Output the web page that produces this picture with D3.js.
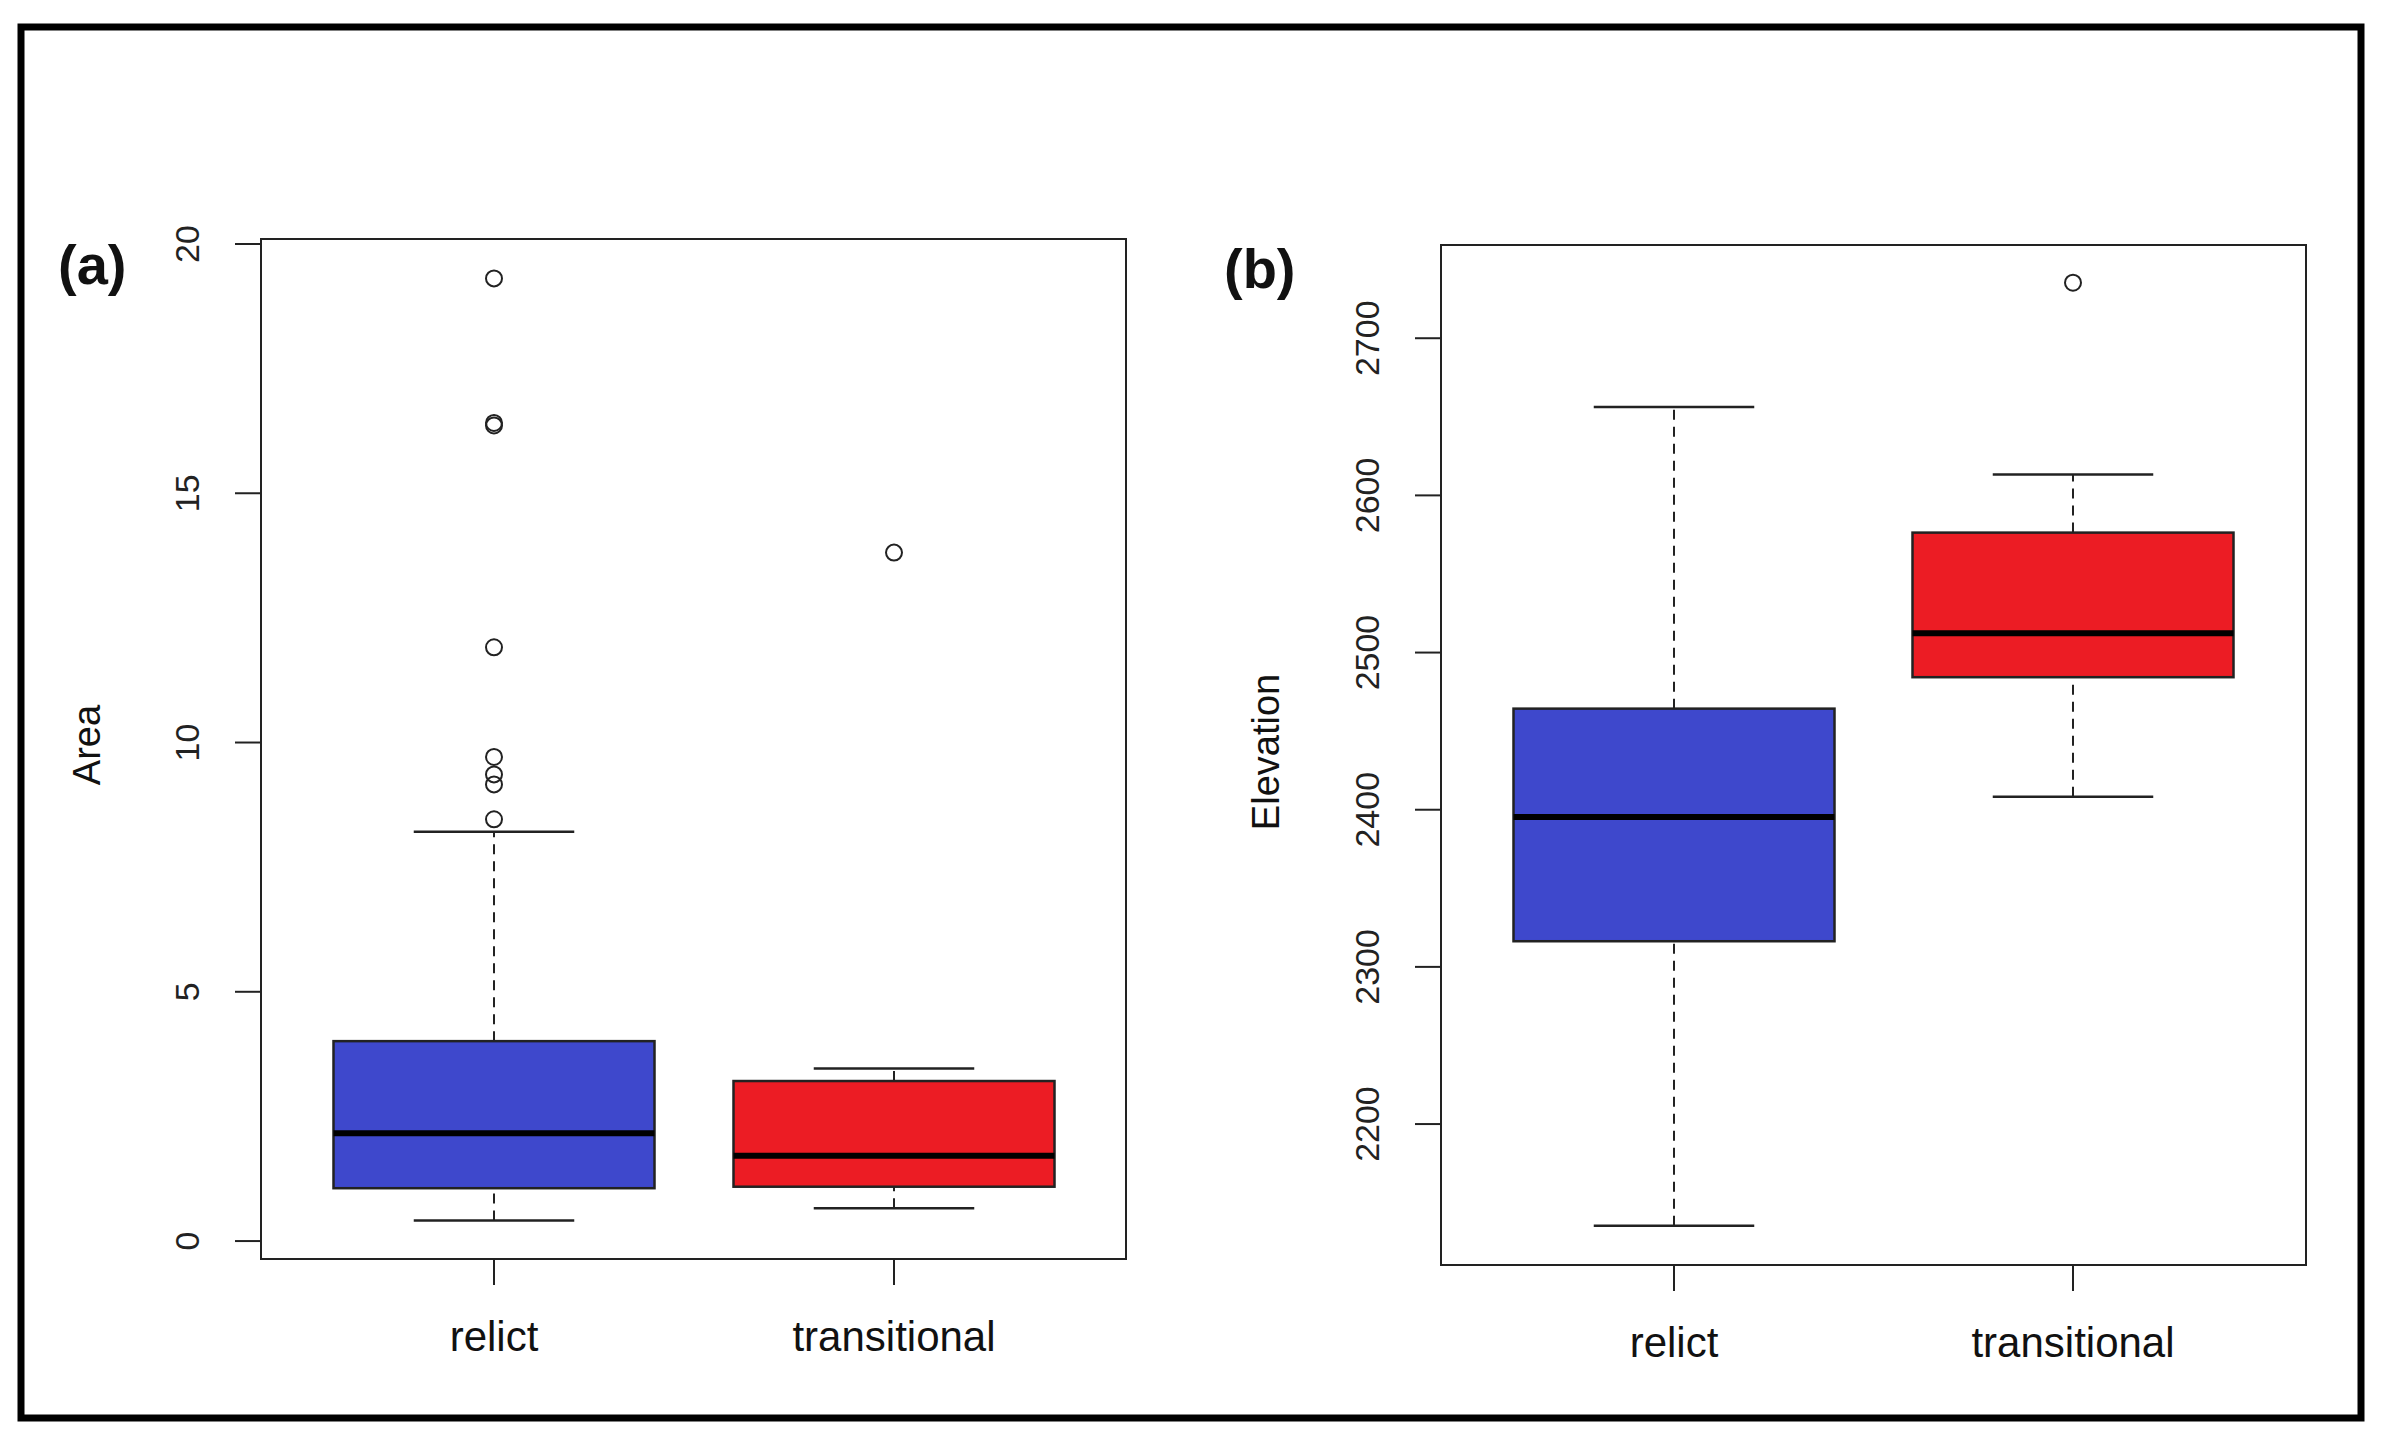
<!DOCTYPE html>
<html><head><meta charset="utf-8">
<script src="https://cdn.jsdelivr.net/npm/d3@7"></script>
<style>body{margin:0;background:#fff}</style>
</head><body>
<script>
var categories = ["relict", "transitional"];
var boxColors = ["#3e48cc", "#ec1c24"];

// area: [low whisker, q1, median, q3, high whisker]
var areaStats = [[0.4, 1.05, 2.15, 4.0, 8.2], [0.65, 1.08, 1.7, 3.2, 3.45]];
var areaOutliers = [[8.45, 9.15, 9.35, 9.7, 11.9, 16.35, 16.4, 19.3], [13.8]];
var areaTicks = [0, 5, 10, 15, 20];

var elevStats = [[2135, 2316, 2395, 2464, 2656], [2408, 2484, 2512, 2576, 2613]];
var elevOutliers = [[], [2735]];
var elevTicks = [2200, 2300, 2400, 2500, 2600, 2700];

var W = 2383, H = 1445;
var svg = d3.select("body").append("svg").attr("width", W).attr("height", H);
svg.append("rect").attr("x", 21).attr("y", 27).attr("width", 2340).attr("height", 1391)
  .attr("fill", "none").attr("stroke", "#000").attr("stroke-width", 7);

function panel(opt) {
  var g = svg.append("g");
  var y = d3.scaleLinear().domain(opt.domain).range([opt.bottom, opt.top]);
  var x = d3.scalePoint().domain(categories).range(opt.centers);
  g.append("rect").attr("x", opt.left).attr("y", opt.top)
    .attr("width", opt.right - opt.left).attr("height", opt.bottom - opt.top)
    .attr("fill", "none").attr("stroke", "#222").attr("stroke-width", 2);

  // y axis
  var ya = g.append("g").attr("transform", "translate(" + opt.left + ",0)")
    .call(d3.axisLeft(y).tickValues(opt.ticks).tickSize(26).tickSizeOuter(0).tickFormat(d3.format("d")));
  ya.select(".domain").attr("stroke", "#222").attr("stroke-width", 2)
    .attr("d", "M0," + y(opt.ticks[0]) + "V" + y(opt.ticks[opt.ticks.length - 1]));
  ya.selectAll(".tick line").attr("stroke", "#222").attr("stroke-width", 2);
  ya.selectAll(".tick text").attr("x", 0).attr("dy", 0)
    .attr("transform", function(d){ return "translate(" + (opt.labelX - opt.left) + ",0) rotate(-90)"; })
    .attr("text-anchor", "middle").attr("font-family", "Liberation Sans, Arial")
    .attr("font-size", 34).attr("fill", "#222");

  // x axis ticks and labels
  categories.forEach(function(c) {
    g.append("line").attr("x1", x(c)).attr("x2", x(c)).attr("y1", opt.bottom).attr("y2", opt.bottom + 26)
      .attr("stroke", "#222").attr("stroke-width", 2);
    g.append("text").attr("x", x(c)).attr("y", opt.bottom + 92).attr("text-anchor", "middle")
      .attr("font-family", "Liberation Sans Narrow, Liberation Sans, Arial").attr("font-size", 42)
      .attr("fill", "#111").text(c);
  });

  var bw = 321;
  opt.stats.forEach(function(s, i) {
    var cx = x(categories[i]);
    g.append("line").attr("x1", cx).attr("x2", cx).attr("y1", y(s[0])).attr("y2", y(s[1]))
      .attr("stroke", "#222").attr("stroke-width", 2).attr("stroke-dasharray", "10,7");
    g.append("line").attr("x1", cx).attr("x2", cx).attr("y1", y(s[3])).attr("y2", y(s[4]))
      .attr("stroke", "#222").attr("stroke-width", 2).attr("stroke-dasharray", "10,7");
    [s[0], s[4]].forEach(function(v) {
      g.append("line").attr("x1", cx - bw / 4).attr("x2", cx + bw / 4).attr("y1", y(v)).attr("y2", y(v))
        .attr("stroke", "#222").attr("stroke-width", 2.5);
    });
    g.append("rect").attr("x", cx - bw / 2).attr("y", y(s[3])).attr("width", bw)
      .attr("height", y(s[1]) - y(s[3])).attr("fill", boxColors[i]).attr("stroke", "#222").attr("stroke-width", 2.5);
    g.append("line").attr("x1", cx - bw / 2).attr("x2", cx + bw / 2).attr("y1", y(s[2])).attr("y2", y(s[2]))
      .attr("stroke", "#000").attr("stroke-width", 6);
    g.selectAll(null).data(opt.outliers[i]).enter().append("circle")
      .attr("cx", cx).attr("cy", function(d){ return y(d); }).attr("r", 8)
      .attr("fill", "none").attr("stroke", "#222").attr("stroke-width", 2);
  });

  g.append("text").attr("transform", "translate(" + opt.titleX + "," + opt.titleY + ") rotate(-90)")
    .attr("text-anchor", "middle").attr("font-family", "Liberation Sans, Arial").attr("font-size", 38)
    .attr("fill", "#111").text(opt.title);
  g.append("text").attr("x", opt.tagX).attr("y", opt.tagY).attr("font-family", "Liberation Sans, Arial")
    .attr("font-weight", "bold").attr("font-size", 56).attr("fill", "#111").text(opt.tag);
}

panel({left: 261, right: 1126, top: 239, bottom: 1259, domain: [-0.37, 20.09], ticks: areaTicks,
  centers: [494, 894], stats: areaStats, outliers: areaOutliers, labelX: 199,
  title: "Area", titleX: 100, titleY: 745, tag: "(a)", tagX: 58, tagY: 284});
panel({left: 1441, right: 2306, top: 245, bottom: 1265, domain: [2110, 2759], ticks: elevTicks,
  centers: [1674, 2073], stats: elevStats, outliers: elevOutliers, labelX: 1379,
  title: "Elevation", titleX: 1279, titleY: 752, tag: "(b)", tagX: 1224, tagY: 288});
</script>
</body></html>
